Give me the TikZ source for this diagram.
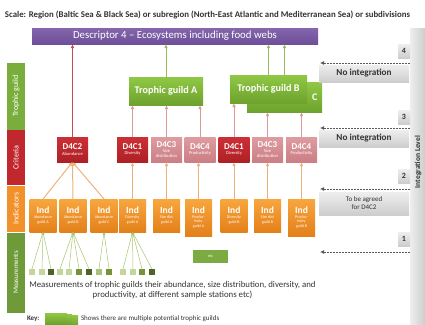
\documentclass[tikz,border=0pt]{standalone}
\usepackage{fontspec}
\setmainfont{Carlito}
\usetikzlibrary{arrows.meta}
\definecolor{purpT}{HTML}{8366AC}
\definecolor{purpB}{HTML}{6E4F99}
\definecolor{guildT}{HTML}{90C845}
\definecolor{guildB}{HTML}{6DA22D}
\definecolor{bandTG}{HTML}{7AAE3C}
\definecolor{bandCR}{HTML}{C0282E}
\definecolor{bandIN}{HTML}{F2902A}
\definecolor{bandME}{HTML}{6F9A3A}
\definecolor{cdarkT}{HTML}{CC3036}
\definecolor{cdarkB}{HTML}{AE2025}
\definecolor{clightT}{HTML}{DE9CA0}
\definecolor{clightB}{HTML}{CB7E84}
\definecolor{indT}{HTML}{F8A63E}
\definecolor{indB}{HTML}{E3801A}
\definecolor{arrRed}{HTML}{C0504D}
\definecolor{arrGreen}{HTML}{9BBB59}
\definecolor{arrPink}{HTML}{D99A9A}
\definecolor{arrOrange}{HTML}{EDB27C}
\definecolor{measLine}{HTML}{A6C470}
\definecolor{sqL}{HTML}{C3D69B}
\definecolor{sqLM}{HTML}{A8C27A}
\definecolor{sqM}{HTML}{76933C}
\definecolor{sqD}{HTML}{4F6228}
\definecolor{greyT}{HTML}{EEEEEE}
\definecolor{greyB}{HTML}{CDCDCD}
\definecolor{txt}{HTML}{333333}
\begin{document}
\begin{tikzpicture}[x=1pt,y=-1pt,
  every node/.style={inner sep=0pt,outer sep=0pt},
  band/.style={rotate=90,minimum height=18pt,text=white,font=\fontsize{8}{9}\selectfont},
  desc/.style={top color=purpT,bottom color=purpB,text=white,minimum width=286pt,minimum height=16pt,font=\fontsize{10.8}{11}\selectfont},
  guild/.style={top color=guildT,bottom color=guildB,text=white,font=\bfseries\fontsize{10.2}{11}\selectfont},
  crit/.style={minimum width=31pt,minimum height=25pt,text=white,align=center,font=\fontsize{4.5}{5.2}\selectfont},
  critd/.style={crit,top color=cdarkT,bottom color=cdarkB},
  critl/.style={crit,top color=clightT,bottom color=clightB},
  indbox/.style={top color=indT,bottom color=indB,text=white,minimum width=27pt,align=center,font=\fontsize{4}{4.6}\selectfont},
  sqbox/.style={minimum width=6pt,minimum height=6pt},
  greybox/.style={top color=greyT,bottom color=greyB,text=txt,minimum width=90pt,align=center},
  numbox/.style={top color=greyT,bottom color=greyB,text=txt,minimum width=12pt,minimum height=14pt,font=\bfseries\fontsize{8}{9}\selectfont},
  tip/.style={-{Latex[length=4pt,width=3.5pt]}},
  rarr/.style={tip,draw=arrRed,line width=1pt},
  garr/.style={tip,draw=arrGreen,line width=1pt},
  parr/.style={tip,draw=arrPink,line width=1pt},
  oarr/.style={tip,draw=arrOrange,line width=1pt},
  marr/.style={-{Latex[length=2.5pt,width=2.5pt]},draw=measLine,line width=0.5pt},
  lvlarr/.style={-{Latex[length=4pt,width=4pt]},draw=black!65,line width=1pt,dash pattern=on 2pt off 1pt}]
\useasboundingbox (0,0) rectangle (425,324);
% title
\node[anchor=west,text=txt,font=\bfseries\fontsize{8.8}{9}\selectfont] (title) at (5,15) {Scale: Region (Baltic Sea \& Black Sea) or subregion (North-East Atlantic and Mediterranean Sea) or subdivisions};
% right bar
\node[anchor=north west,left color=greyT,right color=greyB,minimum width=15pt,minimum height=296pt] (bar) at (410,28) {};
\node[rotate=90,text=txt,font=\bfseries\fontsize{7.5}{8}\selectfont] (intlvl) at (418,162) {Integration Level};
% left bands
\node[band,fill=bandTG,minimum width=67pt] (bTG) at (16,96) {Trophic guild};
\node[band,fill=bandCR,minimum width=55pt] (bCR) at (16,157.5) {Criteria};
\node[band,fill=bandIN,minimum width=46pt] (bIN) at (16,208.5) {Indicators};
\node[band,fill=bandME,minimum width=80pt,font=\fontsize{7}{8}\selectfont] (bME) at (16,272.5) {Measurements};
% descriptor
\node[desc] (D4) at (175,36) {Descriptor 4 – Ecosystems including food webs};
% trophic guilds
\node[guild,minimum width=75pt,minimum height=30pt,text width=66pt,align=right] (TGC) at (284.5,97) {C};
\draw[garr] (TGC.north) -- (TGC.north |- D4.south);
\node[guild,minimum width=77pt,minimum height=28pt] (TGB) at (268.5,89) {Trophic guild B};
\draw[garr] (TGB.north) -- (TGB.north |- D4.south);
\node[guild,minimum width=74pt,minimum height=28pt] (TGA) at (166,91) {Trophic guild A};
\draw[garr] (TGA.north) -- (TGA.north |- D4.south);
% criteria
\node[critd] (C2) at (72.5,149.5) {{\bfseries\fontsize{9}{10}\selectfont D4C2}\\Abundance};
\node[critd] (C1a) at (132.5,149.5) {{\bfseries\fontsize{9}{10}\selectfont D4C1}\\Diversity};
\node[critl] (C3a) at (166.5,149.5) {{\bfseries\fontsize{9}{10}\selectfont D4C3}\\Size\\distribution};
\node[critl] (C4a) at (200,149.5) {{\bfseries\fontsize{9}{10}\selectfont D4C4}\\Productivity};
\node[critd] (C1b) at (234,149.5) {{\bfseries\fontsize{9}{10}\selectfont D4C1}\\Diversity};
\node[critl] (C3b) at (267.5,149.5) {{\bfseries\fontsize{9}{10}\selectfont D4C3}\\Size\\distribution};
\node[critl] (C4b) at (301.5,149.5) {{\bfseries\fontsize{9}{10}\selectfont D4C4}\\Productivity};
\draw[rarr] (C2.north) -- (C2.north |- D4.south);
\draw[parr] (C1a.north) -- (C1a.north |- TGA.south);
\draw[parr] (C3a.north) -- (C3a.north |- TGA.south);
\draw[parr] (C4a.north) -- (C4a.north |- TGA.south);
\draw[parr] (C1b.north) -- (C1b.north |- TGB.south);
\draw[parr] (C3b.north) -- (C3b.north |- TGC.south);
\draw[parr] (C4b.north) -- (C4b.north |- TGC.south);
% indicators
\node[indbox,minimum height=33pt] (I1) at (43,215.5) {{\bfseries\fontsize{9.5}{10}\selectfont Ind}\\Abundance\\guild A};
\node[indbox,minimum height=33pt] (I2) at (73,215.5) {{\bfseries\fontsize{9.5}{10}\selectfont Ind}\\Abundance\\guild B};
\node[indbox,minimum height=33pt] (I3) at (104,215.5) {{\bfseries\fontsize{9.5}{10}\selectfont Ind}\\Abundance\\guild C};
\node[indbox,minimum height=33pt] (I4) at (132.5,215.5) {{\bfseries\fontsize{9.5}{10}\selectfont Ind}\\Diversity\\guild A};
\node[indbox,minimum height=33pt] (I5) at (166.5,215.5) {{\bfseries\fontsize{9.5}{10}\selectfont Ind}\\Size dist\\guild A};
\node[indbox,minimum height=37pt] (I6) at (198.5,217.5) {{\bfseries\fontsize{9.5}{10}\selectfont Ind}\\Produc-\\tivity\\guild A};
\node[indbox,minimum height=33pt] (I7) at (234,215.5) {{\bfseries\fontsize{9.5}{10}\selectfont Ind}\\Diversity\\guild B};
\node[indbox,minimum height=33pt] (I8) at (267.5,215.5) {{\bfseries\fontsize{9.5}{10}\selectfont Ind}\\Size dist\\guild B};
\node[indbox,minimum height=37pt] (I9) at (301.5,217.5) {{\bfseries\fontsize{9.5}{10}\selectfont Ind}\\Produc-\\tivity\\guild B};
\draw[oarr] (I1.north) -- (C2.south);
\draw[oarr] (I2.north) -- (C2.south);
\draw[oarr] (I3.north) -- (C2.south);
\draw[oarr] (I4.north) -- (I4.north |- C1a.south);
\draw[oarr] (I5.north) -- (I5.north |- C3a.south);
\draw[oarr] (I6.north) -- (I6.north |- C4a.south);
\draw[oarr] (I7.north) -- (I7.north |- C1b.south);
\draw[oarr] (I8.north) -- (I8.north |- C3b.south);
\draw[oarr] (I9.north) -- (I9.north |- C4b.south);
% measurement squares
\foreach \i/\x/\c in {1/32/sqL,2/42/sqL,3/51/sqD,4/60/sqL,5/69/sqL,6/79/sqM,7/89/sqD,8/99/sqLM,9/109/sqM,10/123/sqL,11/133/sqL,12/142/sqM,13/152/sqD}
  \node[sqbox,fill=\c] (sq\i) at (\x,272) {};
\foreach \i in {1,2,3} \draw[marr] (sq\i.north) -- (I1.south);
\foreach \i in {4,5,6,7} \draw[marr] (sq\i.north) -- (I2.south);
\foreach \i in {8,9} \draw[marr] (sq\i.north) -- (I3.south);
\foreach \i in {10,11,12,13} \draw[marr] (sq\i.north) -- (I4.south);
\node[fill=guildB!90!white,text=white,minimum width=35pt,minimum height=13pt,font=\fontsize{4}{5}\selectfont] (etc) at (210.5,256.5) {etc};
% measurement text
\node[text=txt,align=center,font=\fontsize{8.8}{10.5}\selectfont] (meas) at (172.5,290) {Measurements of trophic guilds their abundance, size distribution, diversity, and\\productivity, at different sample stations etc)};
% integration levels
\node[numbox] (n4) at (404,51) {4};
\node[numbox] (n3) at (404,117) {3};
\node[numbox] (n2) at (404,176) {2};
\node[numbox] (n1) at (404,239) {1};
\coordinate (l4) at (320,63);
\coordinate (l3) at (320,128);
\coordinate (l2) at (320,189);
\coordinate (l1) at (320,252);
\node[greybox,minimum height=17pt,font=\bfseries\fontsize{9.2}{10}\selectfont] (ni4) at (364,73.5) {No integration};
\node[greybox,minimum height=17pt,font=\bfseries\fontsize{9.2}{10}\selectfont] (ni3) at (364,138.5) {No integration};
\node[greybox,minimum height=23pt,font=\fontsize{7}{8}\selectfont] (tba) at (364,203.5) {To be agreed\\for D4C2};
\draw[lvlarr] (bar.west |- l4) -- (l4);
\draw[lvlarr] (bar.west |- l3) -- (l3);
\draw[lvlarr] (bar.west |- l2) -- (l2);
\draw[lvlarr] (bar.west |- l1) -- (l1);
% key
\node[anchor=west,text=txt,font=\bfseries\fontsize{7}{8}\selectfont] (key) at (27,319) {Key:};
\node[anchor=north west,top color=guildT,bottom color=guildB,minimum width=22pt,minimum height=11pt] (k3) at (56,315) {};
\node[anchor=north west,top color=guildT,bottom color=guildB,minimum width=22pt,minimum height=11pt] (k2) at (50,314) {};
\node[anchor=north west,top color=guildT,bottom color=guildB,minimum width=22pt,minimum height=11pt] (k1) at (45,313) {};
\node[anchor=west,text=txt,font=\fontsize{7}{8}\selectfont] (keytxt) at (81,319) {Shows there are multiple potential trophic guilds};
\end{tikzpicture}
\end{document}
